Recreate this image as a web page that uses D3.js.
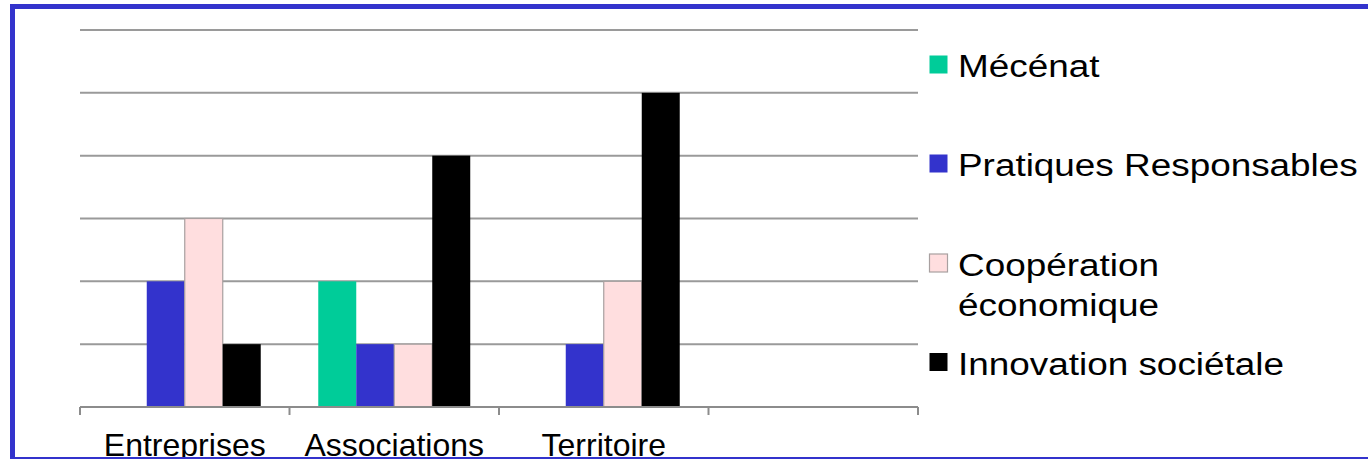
<!DOCTYPE html>
<html>
<head>
<meta charset="utf-8">
<script src="https://cdn.jsdelivr.net/npm/d3@7/dist/d3.min.js"></script>
<style>
  html, body { margin: 0; padding: 0; background: #fff; }
  svg { display: block; }
  text { font-family: "Liberation Sans", Arial, sans-serif; fill: #000; }
</style>
</head>
<body>
<svg id="chart" width="1368" height="459"></svg>
<script>
// Categories along the x axis (the last slot is left empty)
const categories = ["Entreprises", "Associations", "Territoire", ""];
// Series names, as drawn in the legend (one array entry per text line)
const seriesNames = ["Mécénat", "Pratiques Responsables", "Coopération économique", "Innovation sociétale"];
const legendLines = [["Mécénat"], ["Pratiques Responsables"], ["Coopération", "économique"], ["Innovation sociétale"]];
const seriesColors = ["#00CC99", "#3333CC", "#FFDEDF", "#000000"];
// Values per series, in category order
const mecenat      = [0, 2, 0, 0];
const pratiques    = [2, 1, 1, 0];
const cooperation  = [3, 1, 2, 0];
const innovation   = [1, 4, 5, 0];
const yTicks = [0, 1, 2, 3, 4, 5, 6];

const seriesValues = [mecenat, pratiques, cooperation, innovation];

const svg = d3.select("#chart");

const x = d3.scaleBand().domain(categories).range([80, 918]).paddingInner(0).paddingOuter(0);
const xInner = d3.scaleBand().domain(seriesNames).range([0, x.bandwidth()]).paddingInner(0).paddingOuter(0.757);
const y = d3.scaleLinear().domain([0, 6]).range([407, 30]);

// Horizontal gridlines
svg.append("g").selectAll("line")
  .data(yTicks.filter(d => d > 0))
  .join("line")
  .attr("x1", 80).attr("x2", 918)
  .attr("y1", d => y(d)).attr("y2", d => y(d))
  .attr("stroke", "#9a9a9a").attr("stroke-width", 2);

// Bars
const rows = [];
categories.forEach((c, ci) => {
  seriesNames.forEach((s, si) => {
    rows.push({ cat: c, series: s, si, value: seriesValues[si][ci] });
  });
});
svg.append("g").selectAll("rect")
  .data(rows.filter(d => d.value > 0))
  .join("rect")
  .attr("x", d => x(d.cat) + xInner(d.series))
  .attr("y", d => y(d.value))
  .attr("width", xInner.bandwidth())
  .attr("height", d => y(0) - y(d.value))
  .attr("fill", d => seriesColors[d.si])
  .attr("stroke", d => d.si === 2 ? "#a8a0a0" : "none")
  .attr("stroke-width", 1.2);

// Category axis: baseline, boundary ticks and labels
const axis = svg.append("g");
axis.append("line")
  .attr("x1", 80).attr("x2", 918)
  .attr("y1", y(0)).attr("y2", y(0))
  .attr("stroke", "#8c8c8c").attr("stroke-width", 2);
const boundaries = categories.map(c => x(c)).concat([x.range()[1]]);
axis.selectAll("line.tick")
  .data(boundaries)
  .join("line")
  .attr("class", "tick")
  .attr("x1", d => d).attr("x2", d => d)
  .attr("y1", y(0)).attr("y2", y(0) + 8)
  .attr("stroke", "#8c8c8c").attr("stroke-width", 2);
axis.selectAll("text")
  .data(categories.filter(c => c !== ""))
  .join("text")
  .attr("x", d => x(d) + x.bandwidth() / 2)
  .attr("y", 456)
  .attr("text-anchor", "middle")
  .attr("font-size", 32)
  .text(d => d);

// Legend
const legend = svg.append("g");
const legendCenters = [64.5, 163.5, 263, 362];
seriesNames.forEach((s, i) => {
  const cy = legendCenters[i];
  legend.append("rect")
    .attr("x", 929.5).attr("y", cy - 9)
    .attr("width", 18).attr("height", 18)
    .attr("fill", seriesColors[i])
    .attr("stroke", i === 2 ? "#a8a0a0" : "none")
    .attr("stroke-width", 1.2);
  const t = legend.append("text")
    .attr("transform", `translate(958,${cy + 12.5}) scale(1.19,1)`)
    .attr("font-size", 31);
  legendLines[i].forEach((line, li) => {
    t.append("tspan").attr("x", 0).attr("y", li * 40.5).text(line);
  });
});

// Blue frame around the slide
svg.append("rect")
  .attr("x", 12.5).attr("y", 6.5)
  .attr("width", 1400).attr("height", 453)
  .attr("fill", "none")
  .attr("stroke", "#3333CC")
  .attr("stroke-width", 5);
</script>
</body>
</html>
